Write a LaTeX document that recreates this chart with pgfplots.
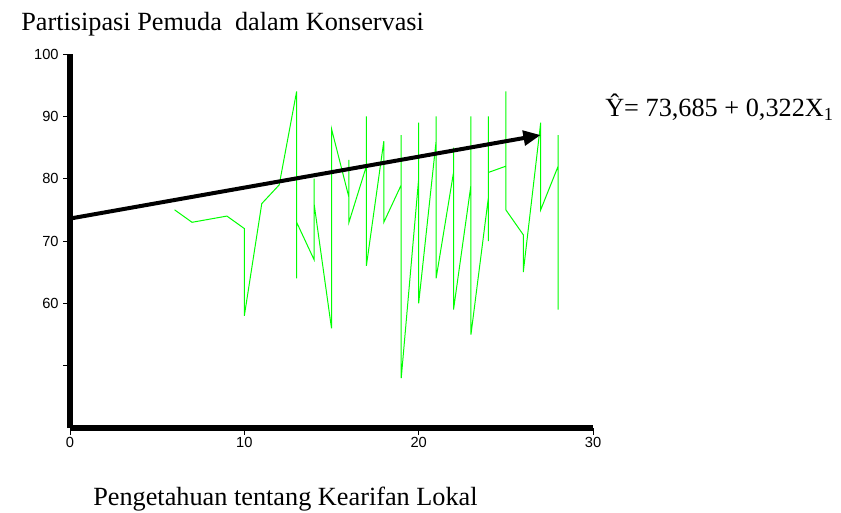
\documentclass[border=0pt]{standalone}
\usepackage{pgfplots}
\pgfplotsset{compat=1.18}
\usepackage{fontspec}
\setmainfont{Liberation Serif}
\newfontfamily\arial{Liberation Sans}
\usetikzlibrary{arrows.meta}
\definecolor{lime}{RGB}{0,255,0}
\begin{document}
\begin{tikzpicture}
\path[use as bounding box] (0,0) rectangle (630.75pt,384pt);
\begin{axis}[
  at={(52.5pt,63pt)}, anchor=south west,
  scale only axis, width=392.25pt, height=280.5pt,
  xmin=0, xmax=30, ymin=40, ymax=100,
  axis x line=bottom, axis y line=left,
  axis line style={line width=5pt, -},
  xtick={0,10,20,30}, xticklabels={0,10,20,30},
  ytick={50,60,70,80,90,100}, yticklabels={,60,70,80,90,100},
  tick align=outside, major tick length=5pt,
  tick style={black, line width=0.5pt},
  ticklabel style={font=\arial\fontsize{11}{13}\selectfont},
  xticklabel style={yshift=1.5pt},
  clip=false,
]
\addplot[lime, line width=0.75pt, line join=miter] coordinates {
(6,75) (7,73) (9,74) (10,72) (10,58) (11,76) (12,79)
(13,94) (13,64) (13,73)
(14,67) (14,80) (14,76)
(15,56) (15,88)
(16,77) (16,83) (16,73)
(17,82) (17,90) (17,66)
(18,86) (18,73)
(19,79) (19,87) (19,48)
(20,80) (20,89) (20,60)
(21,86) (21,90) (21,64)
(22,81) (22,85) (22,59)
(23,79) (23,90) (23,55)
(24,77) (24,90) (24,70) (24,81)
(25,82) (25,94) (25,75)
(26,71) (26,65)
(27,89) (27,75)
(28,82) (28,87) (28,59)
};
\addplot[black, line width=3pt, -{Triangle[length=13pt,width=11pt]}] coordinates {(0,73.6) (27,87)};
\end{axis}
\node[anchor=base west, inner sep=0pt, font=\fontsize{19.7}{22}\selectfont] at (15.75pt,360.75pt) {Partisipasi Pemuda \ dalam Konservasi};
\node[anchor=base, inner sep=0pt, font=\fontsize{19.7}{22}\selectfont] at (214.1pt,5.25pt) {Pengetahuan tentang Kearifan Lokal};
\node[anchor=base west, inner sep=0pt, font=\fontsize{19.7}{22}\selectfont] at (453.75pt,297pt) {Ŷ= 73,685 + 0,322X\textsubscript{1}};
\end{tikzpicture}
\end{document}
